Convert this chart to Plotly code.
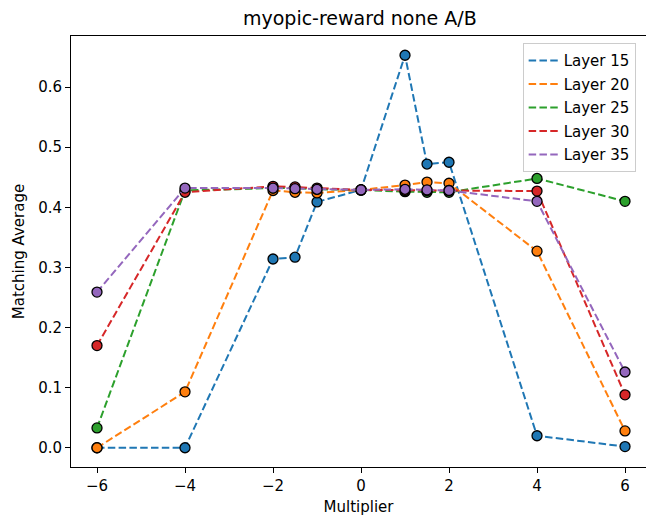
import plotly.graph_objects as go

multipliers = [-6, -4, -2, -1.5, -1, 0, 1, 1.5, 2, 4, 6]
layer15 = [0.0, 0.0, 0.314, 0.317, 0.409, 0.429, 0.653, 0.472, 0.475, 0.020, 0.002]
layer20 = [0.0, 0.093, 0.428, 0.425, 0.424, 0.429, 0.437, 0.442, 0.440, 0.327, 0.028]
layer25 = [0.033, 0.428, 0.432, 0.432, 0.430, 0.429, 0.426, 0.425, 0.425, 0.448, 0.410]
layer30 = [0.170, 0.425, 0.435, 0.434, 0.432, 0.429, 0.428, 0.428, 0.428, 0.427, 0.088]
layer35 = [0.259, 0.432, 0.432, 0.431, 0.430, 0.429, 0.430, 0.429, 0.428, 0.410, 0.126]

series = [("Layer 15", layer15, "#1f77b4"), ("Layer 20", layer20, "#ff7f0e"),
          ("Layer 25", layer25, "#2ca02c"), ("Layer 30", layer30, "#d62728"),
          ("Layer 35", layer35, "#9467bd")]

DASH = "7.5px,3.3px"
fig = go.Figure()
for name, vals, col in series:
    fig.add_trace(go.Scatter(x=multipliers, y=vals, name=name, mode="lines+markers",
                             showlegend=False,
                             line=dict(color=col, dash=DASH, width=2),
                             marker=dict(color=col, size=10, line=dict(color="black", width=1.3))))
for name, vals, col in series:
    fig.add_trace(go.Scatter(x=[None], y=[None], name=name, mode="lines", legendgroup=name,
                             line=dict(color=col, dash=DASH, width=2)))

axis_common = dict(showline=True, linecolor="black", linewidth=1,
                   ticks="outside", ticklen=5, tickcolor="black", showgrid=False,
                   zeroline=False, tickfont=dict(size=15, color="black"))
fig.update_layout(
    width=646, height=516,
    margin=dict(l=71, r=0, t=36, b=49),
    paper_bgcolor="white", plot_bgcolor="white",
    font=dict(family="DejaVu Sans", color="black"),
    title=dict(text="myopic-reward none A/B", x=0.557, xanchor="center", y=0.965, yanchor="middle",
               font=dict(size=19)),
    xaxis=dict(range=[-6.591, 6.477], tickvals=[-6, -4, -2, 0, 2, 4, 6],
               ticktext=["\u22126", "\u22124", "\u22122", "0", "2", "4", "6"],
               mirror=True,
               title=dict(text="Multiplier", font=dict(size=15), standoff=8), **axis_common),
    yaxis=dict(range=[-0.032, 0.685], tickvals=[0.0, 0.1, 0.2, 0.3, 0.4, 0.5, 0.6],
               tickformat=".1f", mirror=False,
               title=dict(text="Matching Average", font=dict(size=15), standoff=9), **axis_common),
    legend=dict(x=0.982, y=0.983, xanchor="right", yanchor="top", bgcolor="rgba(255,255,255,0.8)",
                bordercolor="#cccccc", borderwidth=1, font=dict(size=15), tracegroupgap=1,
                itemwidth=30),
    showlegend=True,
)
fig.write_html("out.html")
